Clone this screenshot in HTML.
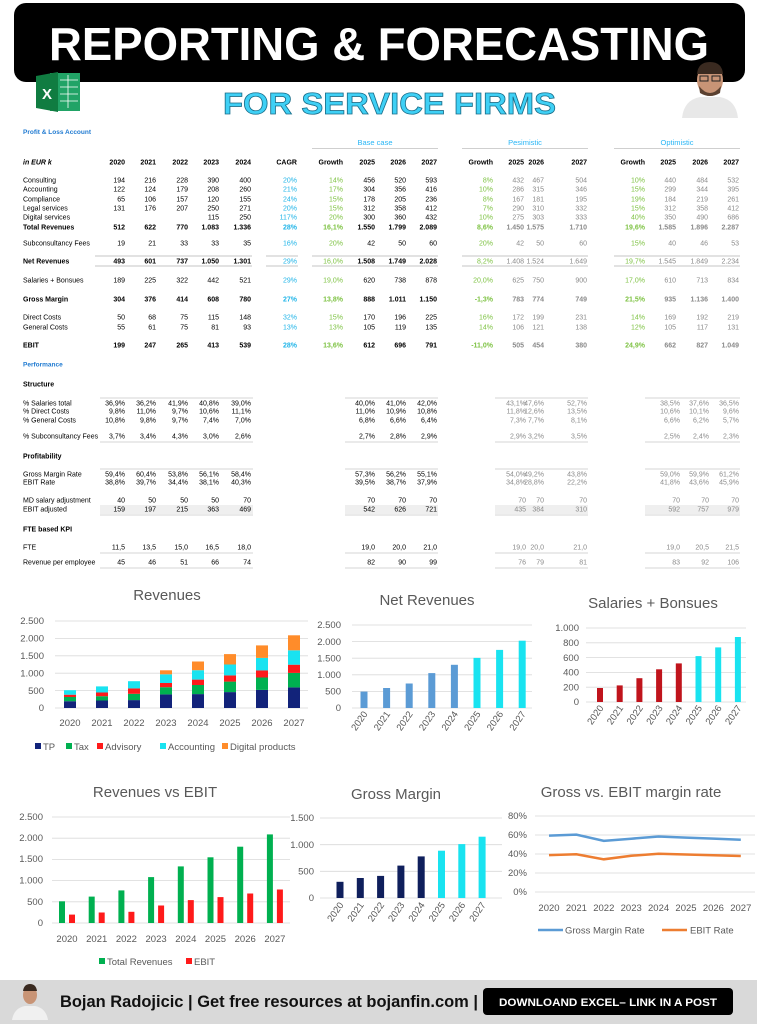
<!DOCTYPE html>
<html><head><meta charset="utf-8"><style>
html,body{margin:0;padding:0;background:#fff;}
svg{display:block;font-family:"Liberation Sans",Arial,sans-serif;}
.t{font-size:7px;fill:#000;}
.tb{font-size:7px;fill:#000;font-weight:bold;}
.cg{font-size:7px;fill:#1fb4e8;}
.gr{font-size:7px;fill:#7dc242;}
.gy{font-size:7px;fill:#8a8a8a;}
.v,.cg,.gr,.gy{text-anchor:end;}
.ax{font-size:9.5px;fill:#595959;}
.ttl{font-size:15px;fill:#595959;text-anchor:middle;}
</style></head><body>
<svg width="757" height="1024" viewBox="0 0 757 1024" xmlns="http://www.w3.org/2000/svg">
<!-- Header -->
<rect x="14" y="3" width="731" height="79" rx="12" fill="#000"/>
<text x="49" y="60" font-size="46" font-weight="bold" fill="#fff" textLength="660" lengthAdjust="spacingAndGlyphs">REPORTING &amp; FORECASTING</text>
<text x="223" y="114" font-size="31" font-weight="bold" fill="#3fd0f5" stroke="#1a6e8a" stroke-width="0.8" textLength="333" lengthAdjust="spacingAndGlyphs">FOR SERVICE FIRMS</text>
<!-- excel icon -->
<rect x="50" y="73" width="30" height="38" fill="#21a366"/>
<g stroke="#fff" stroke-width="0.8"><line x1="60" y1="80" x2="78" y2="80"/><line x1="60" y1="87" x2="78" y2="87"/><line x1="60" y1="94" x2="78" y2="94"/><line x1="60" y1="101" x2="78" y2="101"/><line x1="68" y1="75" x2="68" y2="108"/></g>
<polygon points="36,76 58,72 58,112 36,108" fill="#107c41"/>
<text x="42" y="99" font-size="15" fill="#fff" font-weight="bold">X</text>
<!-- photo -->
<path d="M682 118 Q684 100 700 97 L720 97 Q736 100 738 118 Z" fill="#e8e8e8"/>
<ellipse cx="710" cy="80" rx="13" ry="16" fill="#c89476"/>
<path d="M697 74 Q698 62 710 62 Q722 62 723 74 Z" fill="#3a2a20"/>
<path d="M699 86 Q710 100 721 86 L720 93 Q710 99 700 93 Z" fill="#5a4030"/>
<rect x="700" y="76" width="8" height="5" fill="none" stroke="#222" stroke-width="1"/><rect x="712" y="76" width="8" height="5" fill="none" stroke="#222" stroke-width="1"/>

<!-- Table -->
<text x="23" y="134" font-size="6.5" font-weight="bold" fill="#1f7ad1">Profit &amp; Loss Account</text>
<text x="375" y="145" font-size="7.5" fill="#29b6f6" text-anchor="middle">Base case</text>
<text x="525" y="145" font-size="7.5" fill="#29b6f6" text-anchor="middle">Pesimistic</text>
<text x="677" y="145" font-size="7.5" fill="#29b6f6" text-anchor="middle">Optimistic</text>
<g stroke="#cfcfcf" stroke-width="1"><line x1="312" y1="148.5" x2="438" y2="148.5"/><line x1="462" y1="148.5" x2="588" y2="148.5"/><line x1="614" y1="148.5" x2="740" y2="148.5"/></g>

<text class="tb" y="164.5"><tspan x="23" font-style="italic">in EUR k</tspan></text>
<text class="tb" y="164.5" text-anchor="end"><tspan x="125">2020</tspan><tspan x="156">2021</tspan><tspan x="188">2022</tspan><tspan x="219">2023</tspan><tspan x="251">2024</tspan><tspan x="297">CAGR</tspan><tspan x="343">Growth</tspan><tspan x="375">2025</tspan><tspan x="406">2026</tspan><tspan x="437">2027</tspan><tspan x="493">Growth</tspan><tspan x="524">2025</tspan><tspan x="544">2026</tspan><tspan x="587">2027</tspan><tspan x="645">Growth</tspan><tspan x="676">2025</tspan><tspan x="708">2026</tspan><tspan x="739">2027</tspan></text>

<!-- rows: labels -->
<text class="t"><tspan x="23" y="182.5">Consulting</tspan><tspan x="23" y="191.5">Accounting</tspan><tspan x="23" y="201.5">Compliance</tspan><tspan x="23" y="210.5">Legal services</tspan><tspan x="23" y="219.5">Digital services</tspan><tspan x="23" y="245.5">Subconsultancy Fees</tspan><tspan x="23" y="282.5">Salaries + Bonsues</tspan><tspan x="23" y="319.5">Direct Costs</tspan><tspan x="23" y="329.5">General Costs</tspan></text>
<text class="tb"><tspan x="23" y="229.5">Total Revenues</tspan><tspan x="23" y="263.5">Net Revenues</tspan><tspan x="23" y="301.5">Gross Margin</tspan><tspan x="23" y="347.5">EBIT</tspan></text>

<!-- Consulting -->
<text class="t v" y="182.5"><tspan x="125">194</tspan><tspan x="156">216</tspan><tspan x="188">228</tspan><tspan x="219">390</tspan><tspan x="251">400</tspan><tspan x="375">456</tspan><tspan x="406">520</tspan><tspan x="437">593</tspan></text>
<text class="cg" x="297" y="182.5">20%</text>
<text class="gr" y="182.5"><tspan x="343">14%</tspan><tspan x="493">8%</tspan><tspan x="645">10%</tspan></text>
<text class="gy" y="182.5"><tspan x="524">432</tspan><tspan x="544">467</tspan><tspan x="587">504</tspan><tspan x="676">440</tspan><tspan x="708">484</tspan><tspan x="739">532</tspan></text>
<!-- Accounting -->
<text class="t v" y="191.5"><tspan x="125">122</tspan><tspan x="156">124</tspan><tspan x="188">179</tspan><tspan x="219">208</tspan><tspan x="251">260</tspan><tspan x="375">304</tspan><tspan x="406">356</tspan><tspan x="437">416</tspan></text>
<text class="cg" x="297" y="191.5">21%</text>
<text class="gr" y="191.5"><tspan x="343">17%</tspan><tspan x="493">10%</tspan><tspan x="645">15%</tspan></text>
<text class="gy" y="191.5"><tspan x="524">286</tspan><tspan x="544">315</tspan><tspan x="587">346</tspan><tspan x="676">299</tspan><tspan x="708">344</tspan><tspan x="739">395</tspan></text>
<!-- Compliance -->
<text class="t v" y="201.5"><tspan x="125">65</tspan><tspan x="156">106</tspan><tspan x="188">157</tspan><tspan x="219">120</tspan><tspan x="251">155</tspan><tspan x="375">178</tspan><tspan x="406">205</tspan><tspan x="437">236</tspan></text>
<text class="cg" x="297" y="201.5">24%</text>
<text class="gr" y="201.5"><tspan x="343">15%</tspan><tspan x="493">8%</tspan><tspan x="645">19%</tspan></text>
<text class="gy" y="201.5"><tspan x="524">167</tspan><tspan x="544">181</tspan><tspan x="587">195</tspan><tspan x="676">184</tspan><tspan x="708">219</tspan><tspan x="739">261</tspan></text>
<!-- Legal -->
<text class="t v" y="210.5"><tspan x="125">131</tspan><tspan x="156">176</tspan><tspan x="188">207</tspan><tspan x="219">250</tspan><tspan x="251">271</tspan><tspan x="375">312</tspan><tspan x="406">358</tspan><tspan x="437">412</tspan></text>
<text class="cg" x="297" y="210.5">20%</text>
<text class="gr" y="210.5"><tspan x="343">15%</tspan><tspan x="493">7%</tspan><tspan x="645">15%</tspan></text>
<text class="gy" y="210.5"><tspan x="524">290</tspan><tspan x="544">310</tspan><tspan x="587">332</tspan><tspan x="676">312</tspan><tspan x="708">358</tspan><tspan x="739">412</tspan></text>
<!-- Digital -->
<text class="t v" y="219.5"><tspan x="219">115</tspan><tspan x="251">250</tspan><tspan x="375">300</tspan><tspan x="406">360</tspan><tspan x="437">432</tspan></text>
<text class="cg" x="297" y="219.5">117%</text>
<text class="gr" y="219.5"><tspan x="343">20%</tspan><tspan x="493">10%</tspan><tspan x="645">40%</tspan></text>
<text class="gy" y="219.5"><tspan x="524">275</tspan><tspan x="544">303</tspan><tspan x="587">333</tspan><tspan x="676">350</tspan><tspan x="708">490</tspan><tspan x="739">686</tspan></text>
<!-- Total -->
<text class="tb v" y="229.5"><tspan x="125">512</tspan><tspan x="156">622</tspan><tspan x="188">770</tspan><tspan x="219">1.083</tspan><tspan x="251">1.336</tspan><tspan x="375">1.550</tspan><tspan x="406">1.799</tspan><tspan x="437">2.089</tspan></text>
<text class="cg" x="297" y="229.5" font-weight="bold">28%</text>
<text class="gr" y="229.5" font-weight="bold"><tspan x="343">16,1%</tspan><tspan x="493">8,6%</tspan><tspan x="645">19,6%</tspan></text>
<text class="gy" y="229.5" font-weight="bold"><tspan x="524">1.450</tspan><tspan x="544">1.575</tspan><tspan x="587">1.710</tspan><tspan x="676">1.585</tspan><tspan x="708">1.896</tspan><tspan x="739">2.287</tspan></text>
<!-- Subcons -->
<text class="t v" y="245.5"><tspan x="125">19</tspan><tspan x="156">21</tspan><tspan x="188">33</tspan><tspan x="219">33</tspan><tspan x="251">35</tspan><tspan x="375">42</tspan><tspan x="406">50</tspan><tspan x="437">60</tspan></text>
<text class="cg" x="297" y="245.5">16%</text>
<text class="gr" y="245.5"><tspan x="343">20%</tspan><tspan x="493">20%</tspan><tspan x="645">15%</tspan></text>
<text class="gy" y="245.5"><tspan x="524">42</tspan><tspan x="544">50</tspan><tspan x="587">60</tspan><tspan x="676">40</tspan><tspan x="708">46</tspan><tspan x="739">53</tspan></text>
<!-- Net lines -->
<g stroke="#d0d0d0" stroke-width="1.2"><line x1="95" y1="256" x2="252" y2="256"/><line x1="266" y1="256" x2="298" y2="256"/><line x1="312" y1="256" x2="438" y2="256"/><line x1="462" y1="256" x2="588" y2="256"/><line x1="614" y1="256" x2="740" y2="256"/>
<line x1="95" y1="266" x2="252" y2="266"/><line x1="266" y1="266" x2="298" y2="266"/><line x1="312" y1="266" x2="438" y2="266"/><line x1="462" y1="266" x2="588" y2="266"/><line x1="614" y1="266" x2="740" y2="266"/></g>
<text class="tb v" y="263.5"><tspan x="125">493</tspan><tspan x="156">601</tspan><tspan x="188">737</tspan><tspan x="219">1.050</tspan><tspan x="251">1.301</tspan><tspan x="375">1.508</tspan><tspan x="406">1.749</tspan><tspan x="437">2.028</tspan></text>
<text class="cg" x="297" y="263.5">29%</text>
<text class="gr" y="263.5"><tspan x="343">16,0%</tspan><tspan x="493">8,2%</tspan><tspan x="645">19,7%</tspan></text>
<text class="gy" y="263.5"><tspan x="524">1.408</tspan><tspan x="544">1.524</tspan><tspan x="587">1.649</tspan><tspan x="676">1.545</tspan><tspan x="708">1.849</tspan><tspan x="739">2.234</tspan></text>
<!-- Salaries -->
<text class="t v" y="282.5"><tspan x="125">189</tspan><tspan x="156">225</tspan><tspan x="188">322</tspan><tspan x="219">442</tspan><tspan x="251">521</tspan><tspan x="375">620</tspan><tspan x="406">738</tspan><tspan x="437">878</tspan></text>
<text class="cg" x="297" y="282.5">29%</text>
<text class="gr" y="282.5"><tspan x="343">19,0%</tspan><tspan x="493">20,0%</tspan><tspan x="645">17,0%</tspan></text>
<text class="gy" y="282.5"><tspan x="524">625</tspan><tspan x="544">750</tspan><tspan x="587">900</tspan><tspan x="676">610</tspan><tspan x="708">713</tspan><tspan x="739">834</tspan></text>
<!-- Gross -->
<text class="tb v" y="301.5"><tspan x="125">304</tspan><tspan x="156">376</tspan><tspan x="188">414</tspan><tspan x="219">608</tspan><tspan x="251">780</tspan><tspan x="375">888</tspan><tspan x="406">1.011</tspan><tspan x="437">1.150</tspan></text>
<text class="cg" x="297" y="301.5" font-weight="bold">27%</text>
<text class="gr" y="301.5" font-weight="bold"><tspan x="343">13,8%</tspan><tspan x="493">-1,3%</tspan><tspan x="645">21,5%</tspan></text>
<text class="gy" y="301.5" font-weight="bold"><tspan x="524">783</tspan><tspan x="544">774</tspan><tspan x="587">749</tspan><tspan x="676">935</tspan><tspan x="708">1.136</tspan><tspan x="739">1.400</tspan></text>
<!-- Direct -->
<text class="t v" y="319.5"><tspan x="125">50</tspan><tspan x="156">68</tspan><tspan x="188">75</tspan><tspan x="219">115</tspan><tspan x="251">148</tspan><tspan x="375">170</tspan><tspan x="406">196</tspan><tspan x="437">225</tspan></text>
<text class="cg" x="297" y="319.5">32%</text>
<text class="gr" y="319.5"><tspan x="343">15%</tspan><tspan x="493">16%</tspan><tspan x="645">14%</tspan></text>
<text class="gy" y="319.5"><tspan x="524">172</tspan><tspan x="544">199</tspan><tspan x="587">231</tspan><tspan x="676">169</tspan><tspan x="708">192</tspan><tspan x="739">219</tspan></text>
<!-- General -->
<text class="t v" y="329.5"><tspan x="125">55</tspan><tspan x="156">61</tspan><tspan x="188">75</tspan><tspan x="219">81</tspan><tspan x="251">93</tspan><tspan x="375">105</tspan><tspan x="406">119</tspan><tspan x="437">135</tspan></text>
<text class="cg" x="297" y="329.5">13%</text>
<text class="gr" y="329.5"><tspan x="343">13%</tspan><tspan x="493">14%</tspan><tspan x="645">12%</tspan></text>
<text class="gy" y="329.5"><tspan x="524">106</tspan><tspan x="544">121</tspan><tspan x="587">138</tspan><tspan x="676">105</tspan><tspan x="708">117</tspan><tspan x="739">131</tspan></text>
<!-- EBIT -->
<text class="tb v" y="347.5"><tspan x="125">199</tspan><tspan x="156">247</tspan><tspan x="188">265</tspan><tspan x="219">413</tspan><tspan x="251">539</tspan><tspan x="375">612</tspan><tspan x="406">696</tspan><tspan x="437">791</tspan></text>
<text class="cg" x="297" y="347.5" font-weight="bold">28%</text>
<text class="gr" y="347.5" font-weight="bold"><tspan x="343">13,6%</tspan><tspan x="493">-11,0%</tspan><tspan x="645">24,9%</tspan></text>
<text class="gy" y="347.5" font-weight="bold"><tspan x="524">505</tspan><tspan x="544">454</tspan><tspan x="587">380</tspan><tspan x="676">662</tspan><tspan x="708">827</tspan><tspan x="739">1.049</tspan></text>

<!-- Performance -->
<text x="23" y="366.5" font-size="6.5" font-weight="bold" fill="#1f7ad1">Performance</text>
<text class="tb"><tspan x="23" y="386.5">Structure</tspan><tspan x="23" y="458.5">Profitability</tspan><tspan x="23" y="531.5">FTE  based KPI</tspan></text>
<text class="t"><tspan x="23" y="405.5">% Salaries total</tspan><tspan x="23" y="413.5">% Direct Costs</tspan><tspan x="23" y="422.5">% General Costs</tspan><tspan x="23" y="438.5">% Subconsultancy Fees</tspan><tspan x="23" y="476.5">Gross Margin Rate</tspan><tspan x="23" y="484.5">EBIT Rate</tspan><tspan x="23" y="502.5">MD salary adjustment</tspan><tspan x="23" y="511.5">EBIT adjusted</tspan><tspan x="23" y="549.5">FTE</tspan><tspan x="23" y="564.5">Revenue per employee</tspan></text>
<g fill="#efefef"><rect x="100" y="505" width="153" height="9"/><rect x="345" y="505" width="93" height="9"/><rect x="495" y="505" width="93" height="9"/><rect x="645" y="505" width="95" height="9"/></g>
<g stroke="#c8c8c8" stroke-width="0.8">
<line x1="100" y1="398" x2="253" y2="398"/><line x1="345" y1="398" x2="438" y2="398"/><line x1="495" y1="398" x2="588" y2="398"/><line x1="645" y1="398" x2="740" y2="398"/>
<line x1="100" y1="442" x2="253" y2="442"/><line x1="345" y1="442" x2="438" y2="442"/><line x1="495" y1="442" x2="588" y2="442"/><line x1="645" y1="442" x2="740" y2="442"/>
<line x1="100" y1="469" x2="253" y2="469"/><line x1="345" y1="469" x2="438" y2="469"/><line x1="495" y1="469" x2="588" y2="469"/><line x1="645" y1="469" x2="740" y2="469"/>
<line x1="100" y1="515" x2="253" y2="515"/><line x1="345" y1="515" x2="438" y2="515"/><line x1="495" y1="515" x2="588" y2="515"/><line x1="645" y1="515" x2="740" y2="515"/>
<line x1="100" y1="553" x2="253" y2="553"/><line x1="345" y1="553" x2="438" y2="553"/><line x1="495" y1="553" x2="588" y2="553"/><line x1="645" y1="553" x2="740" y2="553"/>
<line x1="100" y1="568" x2="253" y2="568"/><line x1="345" y1="568" x2="438" y2="568"/><line x1="495" y1="568" x2="588" y2="568"/><line x1="645" y1="568" x2="740" y2="568"/>
</g>
<text class="t v" y="405.5"><tspan x="125">36,9%</tspan><tspan x="156">36,2%</tspan><tspan x="188">41,9%</tspan><tspan x="219">40,8%</tspan><tspan x="251">39,0%</tspan><tspan x="375">40,0%</tspan><tspan x="406">41,0%</tspan><tspan x="437">42,0%</tspan></text>
<text class="gy" y="405.5"><tspan x="526">43,1%</tspan><tspan x="544">47,6%</tspan><tspan x="587">52,7%</tspan><tspan x="680">38,5%</tspan><tspan x="709">37,6%</tspan><tspan x="739">36,5%</tspan></text>
<text class="t v" y="413.5"><tspan x="125">9,8%</tspan><tspan x="156">11,0%</tspan><tspan x="188">9,7%</tspan><tspan x="219">10,6%</tspan><tspan x="251">11,1%</tspan><tspan x="375">11,0%</tspan><tspan x="406">10,9%</tspan><tspan x="437">10,8%</tspan></text>
<text class="gy" y="413.5"><tspan x="526">11,8%</tspan><tspan x="544">12,6%</tspan><tspan x="587">13,5%</tspan><tspan x="680">10,6%</tspan><tspan x="709">10,1%</tspan><tspan x="739">9,6%</tspan></text>
<text class="t v" y="422.5"><tspan x="125">10,8%</tspan><tspan x="156">9,8%</tspan><tspan x="188">9,7%</tspan><tspan x="219">7,4%</tspan><tspan x="251">7,0%</tspan><tspan x="375">6,8%</tspan><tspan x="406">6,6%</tspan><tspan x="437">6,4%</tspan></text>
<text class="gy" y="422.5"><tspan x="526">7,3%</tspan><tspan x="544">7,7%</tspan><tspan x="587">8,1%</tspan><tspan x="680">6,6%</tspan><tspan x="709">6,2%</tspan><tspan x="739">5,7%</tspan></text>
<text class="t v" y="438.5"><tspan x="125">3,7%</tspan><tspan x="156">3,4%</tspan><tspan x="188">4,3%</tspan><tspan x="219">3,0%</tspan><tspan x="251">2,6%</tspan><tspan x="375">2,7%</tspan><tspan x="406">2,8%</tspan><tspan x="437">2,9%</tspan></text>
<text class="gy" y="438.5"><tspan x="526">2,9%</tspan><tspan x="544">3,2%</tspan><tspan x="587">3,5%</tspan><tspan x="680">2,5%</tspan><tspan x="709">2,4%</tspan><tspan x="739">2,3%</tspan></text>
<text class="t v" y="476.5"><tspan x="125">59,4%</tspan><tspan x="156">60,4%</tspan><tspan x="188">53,8%</tspan><tspan x="219">56,1%</tspan><tspan x="251">58,4%</tspan><tspan x="375">57,3%</tspan><tspan x="406">56,2%</tspan><tspan x="437">55,1%</tspan></text>
<text class="gy" y="476.5"><tspan x="526">54,0%</tspan><tspan x="544">49,2%</tspan><tspan x="587">43,8%</tspan><tspan x="680">59,0%</tspan><tspan x="709">59,9%</tspan><tspan x="739">61,2%</tspan></text>
<text class="t v" y="484.5"><tspan x="125">38,8%</tspan><tspan x="156">39,7%</tspan><tspan x="188">34,4%</tspan><tspan x="219">38,1%</tspan><tspan x="251">40,3%</tspan><tspan x="375">39,5%</tspan><tspan x="406">38,7%</tspan><tspan x="437">37,9%</tspan></text>
<text class="gy" y="484.5"><tspan x="526">34,8%</tspan><tspan x="544">28,8%</tspan><tspan x="587">22,2%</tspan><tspan x="680">41,8%</tspan><tspan x="709">43,6%</tspan><tspan x="739">45,9%</tspan></text>
<text class="t v" y="502.5"><tspan x="125">40</tspan><tspan x="156">50</tspan><tspan x="188">50</tspan><tspan x="219">50</tspan><tspan x="251">70</tspan><tspan x="375">70</tspan><tspan x="406">70</tspan><tspan x="437">70</tspan></text>
<text class="gy" y="502.5"><tspan x="526">70</tspan><tspan x="544">70</tspan><tspan x="587">70</tspan><tspan x="680">70</tspan><tspan x="709">70</tspan><tspan x="739">70</tspan></text>
<text class="t v" y="511.5"><tspan x="125">159</tspan><tspan x="156">197</tspan><tspan x="188">215</tspan><tspan x="219">363</tspan><tspan x="251">469</tspan><tspan x="375">542</tspan><tspan x="406">626</tspan><tspan x="437">721</tspan></text>
<text class="gy" y="511.5"><tspan x="526">435</tspan><tspan x="544">384</tspan><tspan x="587">310</tspan><tspan x="680">592</tspan><tspan x="709">757</tspan><tspan x="739">979</tspan></text>
<text class="t v" y="549.5"><tspan x="125">11,5</tspan><tspan x="156">13,5</tspan><tspan x="188">15,0</tspan><tspan x="219">16,5</tspan><tspan x="251">18,0</tspan><tspan x="375">19,0</tspan><tspan x="406">20,0</tspan><tspan x="437">21,0</tspan></text>
<text class="gy" y="549.5"><tspan x="526">19,0</tspan><tspan x="544">20,0</tspan><tspan x="587">21,0</tspan><tspan x="680">19,0</tspan><tspan x="709">20,5</tspan><tspan x="739">21,5</tspan></text>
<text class="t v" y="564.5"><tspan x="125">45</tspan><tspan x="156">46</tspan><tspan x="188">51</tspan><tspan x="219">66</tspan><tspan x="251">74</tspan><tspan x="375">82</tspan><tspan x="406">90</tspan><tspan x="437">99</tspan></text>
<text class="gy" y="564.5"><tspan x="526">76</tspan><tspan x="544">79</tspan><tspan x="587">81</tspan><tspan x="680">83</tspan><tspan x="709">92</tspan><tspan x="739">106</tspan></text>

<!-- Chart 1 Revenues -->
<text class="ttl" x="167" y="600">Revenues</text>
<g stroke="#d9d9d9" stroke-width="0.8"><line x1="55" y1="621" x2="308" y2="621"/><line x1="55" y1="638.4" x2="308" y2="638.4"/><line x1="55" y1="655.8" x2="308" y2="655.8"/><line x1="55" y1="673.2" x2="308" y2="673.2"/><line x1="55" y1="690.6" x2="308" y2="690.6"/><line x1="55" y1="708" x2="308" y2="708"/></g>
<text class="ax" text-anchor="end"><tspan x="44" y="624">2.500</tspan><tspan x="44" y="641.5">2.000</tspan><tspan x="44" y="659">1.500</tspan><tspan x="44" y="676.5">1.000</tspan><tspan x="44" y="694">500</tspan><tspan x="44" y="711">0</tspan></text>
<g fill="#12237a">
<rect x="64" y="701.2" width="12" height="6.8"/><rect x="96" y="700.5" width="12" height="7.5"/><rect x="128" y="700.1" width="12" height="7.9"/><rect x="160" y="694.4" width="12" height="13.6"/><rect x="192" y="694.1" width="12" height="13.9"/><rect x="224" y="692.1" width="12" height="15.9"/><rect x="256" y="689.9" width="12" height="18.1"/><rect x="288" y="687.4" width="12" height="20.6"/></g>
<g fill="#00b050">
<rect x="64" y="697" width="12" height="4.2"/><rect x="96" y="696.2" width="12" height="4.3"/><rect x="128" y="693.8" width="12" height="6.3"/><rect x="160" y="687.2" width="12" height="7.2"/><rect x="192" y="685" width="12" height="9.1"/><rect x="224" y="681.6" width="12" height="10.5"/><rect x="256" y="677.5" width="12" height="12.4"/><rect x="288" y="672.9" width="12" height="14.5"/></g>
<g fill="#ff1a1a">
<rect x="64" y="694.7" width="12" height="2.3"/><rect x="96" y="692.5" width="12" height="3.7"/><rect x="128" y="688.4" width="12" height="5.4"/><rect x="160" y="683" width="12" height="4.2"/><rect x="192" y="679.6" width="12" height="5.4"/><rect x="224" y="675.4" width="12" height="6.2"/><rect x="256" y="670.4" width="12" height="7.1"/><rect x="288" y="664.7" width="12" height="8.2"/></g>
<g fill="#19e3f0">
<rect x="64" y="690.2" width="12" height="4.5"/><rect x="96" y="686.4" width="12" height="6.1"/><rect x="128" y="681.2" width="12" height="7.2"/><rect x="160" y="674.3" width="12" height="8.7"/><rect x="192" y="670.2" width="12" height="9.4"/><rect x="224" y="664.5" width="12" height="10.9"/><rect x="256" y="657.9" width="12" height="12.5"/><rect x="288" y="650.3" width="12" height="14.4"/></g>
<g fill="#ff8c2a">
<rect x="160" y="670.3" width="12" height="4"/><rect x="192" y="661.5" width="12" height="8.7"/><rect x="224" y="654.1" width="12" height="10.4"/><rect x="256" y="645.4" width="12" height="12.5"/><rect x="288" y="635.3" width="12" height="15"/></g>
<text class="ax" text-anchor="middle" font-size="10" y="726"><tspan x="70">2020</tspan><tspan x="102">2021</tspan><tspan x="134">2022</tspan><tspan x="166">2023</tspan><tspan x="198">2024</tspan><tspan x="230">2025</tspan><tspan x="262">2026</tspan><tspan x="294">2027</tspan></text>
<rect x="35" y="743" width="6" height="6" fill="#12237a"/><rect x="66" y="743" width="6" height="6" fill="#00b050"/><rect x="97" y="743" width="6" height="6" fill="#ff1a1a"/><rect x="160" y="743" width="6" height="6" fill="#19e3f0"/><rect x="222" y="743" width="6" height="6" fill="#ff8c2a"/>
<text class="ax" font-size="10" y="750"><tspan x="43">TP</tspan><tspan x="74">Tax</tspan><tspan x="105">Advisory</tspan><tspan x="168">Accounting</tspan><tspan x="230">Digital products</tspan></text>

<!-- Chart 2 Net Revenues -->
<text class="ttl" x="427" y="605">Net Revenues</text>
<g stroke="#d9d9d9" stroke-width="0.8"><line x1="352" y1="625" x2="532" y2="625"/><line x1="352" y1="641.6" x2="532" y2="641.6"/><line x1="352" y1="658.2" x2="532" y2="658.2"/><line x1="352" y1="674.8" x2="532" y2="674.8"/><line x1="352" y1="691.4" x2="532" y2="691.4"/><line x1="352" y1="708" x2="532" y2="708"/></g>
<text class="ax" text-anchor="end"><tspan x="341" y="628">2.500</tspan><tspan x="341" y="645">2.000</tspan><tspan x="341" y="661.5">1.500</tspan><tspan x="341" y="678">1.000</tspan><tspan x="341" y="694.5">500</tspan><tspan x="341" y="711">0</tspan></text>
<g fill="#5b9bd5"><rect x="360.5" y="691.6" width="7" height="16.4"/><rect x="383.1" y="688" width="7" height="20"/><rect x="405.7" y="683.5" width="7" height="24.5"/><rect x="428.3" y="673.1" width="7" height="34.9"/><rect x="450.9" y="664.8" width="7" height="43.2"/></g>
<g fill="#19e3f0"><rect x="473.5" y="657.9" width="7" height="50.1"/><rect x="496.1" y="649.9" width="7" height="58.1"/><rect x="518.7" y="640.7" width="7" height="67.3"/></g>
<g class="ax" text-anchor="end" font-size="10">
<text transform="translate(368,714) rotate(-55)">2020</text><text transform="translate(390.6,714) rotate(-55)">2021</text><text transform="translate(413.2,714) rotate(-55)">2022</text><text transform="translate(435.8,714) rotate(-55)">2023</text><text transform="translate(458.4,714) rotate(-55)">2024</text><text transform="translate(481,714) rotate(-55)">2025</text><text transform="translate(503.6,714) rotate(-55)">2026</text><text transform="translate(526.2,714) rotate(-55)">2027</text></g>

<!-- Chart 3 Salaries -->
<text class="ttl" x="653" y="608">Salaries + Bonsues</text>
<g stroke="#d9d9d9" stroke-width="0.8"><line x1="586" y1="628" x2="746" y2="628"/><line x1="586" y1="642.8" x2="746" y2="642.8"/><line x1="586" y1="657.6" x2="746" y2="657.6"/><line x1="586" y1="672.4" x2="746" y2="672.4"/><line x1="586" y1="687.2" x2="746" y2="687.2"/><line x1="586" y1="702" x2="746" y2="702"/></g>
<text class="ax" text-anchor="end"><tspan x="579" y="631">1.000</tspan><tspan x="579" y="646">800</tspan><tspan x="579" y="661">600</tspan><tspan x="579" y="675.5">400</tspan><tspan x="579" y="690.5">200</tspan><tspan x="579" y="705">0</tspan></text>
<g fill="#c0141c"><rect x="597" y="688" width="6" height="14"/><rect x="616.7" y="685.4" width="6" height="16.6"/><rect x="636.4" y="678.2" width="6" height="23.8"/><rect x="656.1" y="669.3" width="6" height="32.7"/><rect x="675.8" y="663.4" width="6" height="38.6"/></g>
<g fill="#19e3f0"><rect x="695.5" y="656.1" width="6" height="45.9"/><rect x="715.2" y="647.4" width="6" height="54.6"/><rect x="734.9" y="637" width="6" height="65"/></g>
<g class="ax" text-anchor="end" font-size="10">
<text transform="translate(604,708) rotate(-55)">2020</text><text transform="translate(623.7,708) rotate(-55)">2021</text><text transform="translate(643.4,708) rotate(-55)">2022</text><text transform="translate(663.1,708) rotate(-55)">2023</text><text transform="translate(682.8,708) rotate(-55)">2024</text><text transform="translate(702.5,708) rotate(-55)">2025</text><text transform="translate(722.2,708) rotate(-55)">2026</text><text transform="translate(741.9,708) rotate(-55)">2027</text></g>

<!-- Chart 4 Revenues vs EBIT -->
<text class="ttl" x="155" y="797">Revenues vs EBIT</text>
<g stroke="#d9d9d9" stroke-width="0.8"><line x1="52" y1="817" x2="290" y2="817"/><line x1="52" y1="838.2" x2="290" y2="838.2"/><line x1="52" y1="859.4" x2="290" y2="859.4"/><line x1="52" y1="880.6" x2="290" y2="880.6"/><line x1="52" y1="901.8" x2="290" y2="901.8"/><line x1="52" y1="923" x2="290" y2="923"/></g>
<text class="ax" text-anchor="end"><tspan x="43" y="820">2.500</tspan><tspan x="43" y="841">2.000</tspan><tspan x="43" y="862">1.500</tspan><tspan x="43" y="883.5">1.000</tspan><tspan x="43" y="905">500</tspan><tspan x="43" y="926">0</tspan></text>
<g fill="#00b050"><rect x="59" y="901.3" width="6" height="21.7"/><rect x="88.7" y="896.6" width="6" height="26.4"/><rect x="118.4" y="890.4" width="6" height="32.6"/><rect x="148.1" y="877.1" width="6" height="45.9"/><rect x="177.8" y="866.4" width="6" height="56.6"/><rect x="207.5" y="857.3" width="6" height="65.7"/><rect x="237.2" y="846.7" width="6" height="76.3"/><rect x="266.9" y="834.4" width="6" height="88.6"/></g>
<g fill="#ff1a1a"><rect x="69" y="914.6" width="6" height="8.4"/><rect x="98.7" y="912.5" width="6" height="10.5"/><rect x="128.4" y="911.8" width="6" height="11.2"/><rect x="158.1" y="905.5" width="6" height="17.5"/><rect x="187.8" y="900.1" width="6" height="22.9"/><rect x="217.5" y="897.1" width="6" height="25.9"/><rect x="247.2" y="893.5" width="6" height="29.5"/><rect x="276.9" y="889.5" width="6" height="33.5"/></g>
<text class="ax" text-anchor="middle" font-size="10" y="942"><tspan x="67">2020</tspan><tspan x="96.7">2021</tspan><tspan x="126.4">2022</tspan><tspan x="156.1">2023</tspan><tspan x="185.8">2024</tspan><tspan x="215.5">2025</tspan><tspan x="245.2">2026</tspan><tspan x="274.9">2027</tspan></text>
<rect x="99" y="958" width="6" height="6" fill="#00b050"/><rect x="186" y="958" width="6" height="6" fill="#ff1a1a"/>
<text class="ax" font-size="10" y="965"><tspan x="107">Total Revenues</tspan><tspan x="194">EBIT</tspan></text>

<!-- Chart 5 Gross Margin -->
<text class="ttl" x="396" y="799">Gross Margin</text>
<g stroke="#d9d9d9" stroke-width="0.8"><line x1="320" y1="818" x2="502" y2="818"/><line x1="320" y1="844.7" x2="502" y2="844.7"/><line x1="320" y1="871.3" x2="502" y2="871.3"/><line x1="320" y1="898" x2="502" y2="898"/></g>
<text class="ax" text-anchor="end"><tspan x="314" y="821">1.500</tspan><tspan x="314" y="848">1.000</tspan><tspan x="314" y="874.5">500</tspan><tspan x="314" y="901">0</tspan></text>
<g fill="#0f1f5c"><rect x="336.5" y="881.8" width="7" height="16.2"/><rect x="356.8" y="878" width="7" height="20"/><rect x="377.1" y="875.9" width="7" height="22.1"/><rect x="397.4" y="865.6" width="7" height="32.4"/><rect x="417.7" y="856.4" width="7" height="41.6"/></g>
<g fill="#19e3f0"><rect x="438" y="850.7" width="7" height="47.3"/><rect x="458.3" y="844.1" width="7" height="53.9"/><rect x="478.6" y="836.7" width="7" height="61.3"/></g>
<g class="ax" text-anchor="end" font-size="10">
<text transform="translate(344,905) rotate(-55)">2020</text><text transform="translate(364.3,905) rotate(-55)">2021</text><text transform="translate(384.6,905) rotate(-55)">2022</text><text transform="translate(404.9,905) rotate(-55)">2023</text><text transform="translate(425.2,905) rotate(-55)">2024</text><text transform="translate(445.5,905) rotate(-55)">2025</text><text transform="translate(465.8,905) rotate(-55)">2026</text><text transform="translate(486.1,905) rotate(-55)">2027</text></g>

<!-- Chart 6 margin rate -->
<text class="ttl" x="631" y="797">Gross vs. EBIT margin rate</text>
<g stroke="#d9d9d9" stroke-width="0.8"><line x1="535" y1="816" x2="755" y2="816"/><line x1="535" y1="835" x2="755" y2="835"/><line x1="535" y1="854" x2="755" y2="854"/><line x1="535" y1="873" x2="755" y2="873"/><line x1="535" y1="892" x2="755" y2="892"/></g>
<text class="ax" text-anchor="end"><tspan x="527" y="819">80%</tspan><tspan x="527" y="838">60%</tspan><tspan x="527" y="857">40%</tspan><tspan x="527" y="876">20%</tspan><tspan x="527" y="895">0%</tspan></text>
<polyline fill="none" stroke="#5b9bd5" stroke-width="2.5" points="549,835.6 576.4,834.6 603.8,840.9 631.2,838.7 658.6,836.5 686,837.6 713.4,838.6 740.8,839.7"/>
<polyline fill="none" stroke="#ed7d31" stroke-width="2.5" points="549,855.1 576.4,854.3 603.8,859.3 631.2,855.8 658.6,853.7 686,854.5 713.4,855.2 740.8,856"/>
<text class="ax" text-anchor="middle" font-size="10" y="911"><tspan x="549">2020</tspan><tspan x="576.4">2021</tspan><tspan x="603.8">2022</tspan><tspan x="631.2">2023</tspan><tspan x="658.6">2024</tspan><tspan x="686">2025</tspan><tspan x="713.4">2026</tspan><tspan x="740.8">2027</tspan></text>
<line x1="538" y1="930" x2="563" y2="930" stroke="#5b9bd5" stroke-width="2.5"/><line x1="662" y1="930" x2="687" y2="930" stroke="#ed7d31" stroke-width="2.5"/>
<text class="ax" font-size="10" y="933.5"><tspan x="565">Gross Margin Rate</tspan><tspan x="690">EBIT Rate</tspan></text>

<!-- Footer -->
<rect x="0" y="980" width="757" height="44" fill="#d9d9d9"/>
<path d="M12 1020 Q14 1008 25 1006 L35 1006 Q46 1008 48 1020 Z" fill="#f0f0f0"/>
<ellipse cx="30" cy="995" rx="7" ry="9" fill="#c89476"/>
<path d="M23 991 Q24 984 30 984 Q36 984 37 991 Z" fill="#3a2a20"/>
<text x="60" y="1007" font-size="16.5" font-weight="bold" fill="#111" textLength="418" lengthAdjust="spacingAndGlyphs">Bojan Radojicic | Get free resources at bojanfin.com |</text>
<rect x="483" y="988" width="250" height="27" rx="4" fill="#000"/>
<text x="608" y="1006" font-size="11" font-weight="bold" fill="#fff" text-anchor="middle" textLength="218" lengthAdjust="spacingAndGlyphs">DOWNLOAND EXCEL– LINK IN A POST</text>
</svg>
</body></html>
